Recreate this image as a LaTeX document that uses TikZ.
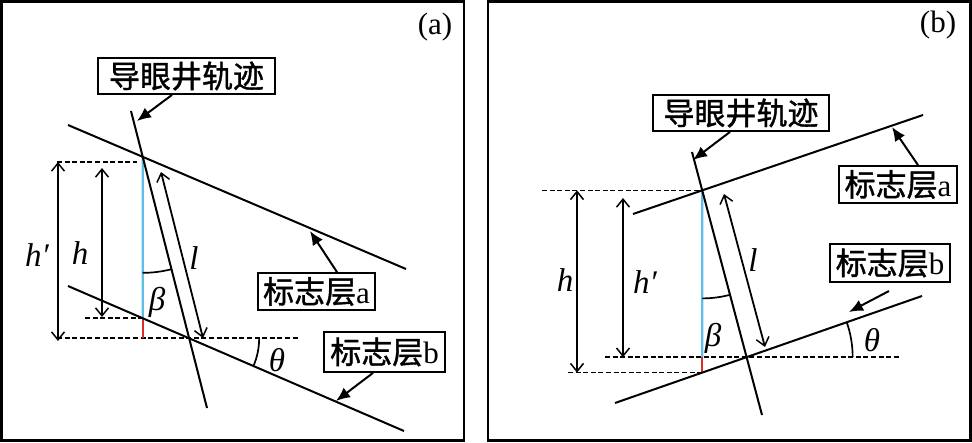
\documentclass[tikz,border=0pt]{standalone}
\usepackage{fontspec}
\setmainfont{Liberation Serif}
\newfontfamily\cjk{Noto Sans CJK SC}[FakeBold=1.2]
\usetikzlibrary{arrows.meta,calc}
\definecolor{vcyan}{RGB}{95,190,232}
\definecolor{vred}{RGB}{220,45,45}
\tikzset{
 ln/.style={line width=2pt},
 dsh/.style={line width=1.6pt, dash pattern=on 5pt off 2.6pt},
 dimarrow/.style={line width=1.8pt, {Straight Barb[length=8pt,width=13pt,line width=1.5pt]}-{Straight Barb[length=8pt,width=13pt,line width=1.5pt]}},
 ptr/.style={line width=2pt, -{Latex[length=14pt,width=12pt]}},
 lbl/.style={draw, line width=1.8pt, inner sep=0pt, font=\cjk\fontsize{31}{36}\selectfont, fill=white},
 sym/.style={font=\fontsize{33}{36}\selectfont\itshape, inner sep=0pt},
 tag/.style={font=\fontsize{31}{36}\selectfont, inner sep=0pt},
 frm/.style={line width=2.8pt},
 anglearc/.style={line width=1.7pt},
 cyanline/.style={line width=2.4pt, vcyan},
 redline/.style={line width=2.4pt, vred}
}
\begin{document}
\begin{tikzpicture}[x=1pt,y=-1pt]
\useasboundingbox (0,0) rectangle (972,442);
% frames
\draw[frm] (1.4,1.4) rectangle (464,440.6);
\draw[frm] (488,1.4) rectangle (970.6,440.6);
\node[tag] (taga) at (435,27) {(a)};
\node[tag] (tagb) at (938,25) {(b)};

% ---------------- panel (a)
\coordinate (wa1) at (131,111);
\coordinate (wa2) at (207,408);
\coordinate (la1) at (68,125);
\coordinate (la2) at (406,269);
\coordinate (lb1) at (68,286);
\coordinate (lb2) at (404,431);
\coordinate (A1) at (intersection of wa1--wa2 and la1--la2);
\coordinate (A1d) at (A1 |- lb2);
\coordinate (B1) at (intersection of A1--A1d and lb1--lb2);
\coordinate (T1) at (intersection of wa1--wa2 and lb1--lb2);
\coordinate (xa57) at (57,0);
\coordinate (xa85) at (85,0);
\coordinate (xa300) at (300,0);
\coordinate (dt1) at (57,162);
\coordinate (dt2) at (137,162);
\draw[dsh] (dt1) -- (dt2);
\draw[dsh] (xa85 |- B1) -- (B1);
\draw[dsh] (xa57 |- T1) -- (xa300 |- T1);
\draw[cyanline] (A1) -- (B1);
\draw[redline] (B1) -- (B1 |- T1);
\draw[ln] (wa1) -- (wa2);
\draw[ln] (la1) -- (la2);
\draw[ln] (lb1) -- (lb2);
\coordinate (hpa1) at (58,162);
\coordinate (hpa2) at (58,341);
\draw[dimarrow] (hpa1) -- (hpa2);
\coordinate (ha1) at (102,168);
\coordinate (ha2) at (102,317);
\draw[dimarrow] (ha1) -- (ha2);
\coordinate (la_1) at (161,172);
\coordinate (la_2) at (203,338);
\draw[dimarrow] (la_1) -- (la_2);
\draw[anglearc] ($(A1)+(90:116)$) arc[start angle=90, end angle=75.8, radius=116];
\draw[anglearc] ($(T1)+(0:70)$) arc[start angle=0, end angle=23.3, radius=70];
\node[sym] (hpa) at (37,255) {h′};
\node[sym] (ha) at (80,253) {h};
\node[sym] (lla) at (194,258) {l};
\node[sym] (betaa) at (157,302) {β};
\node[sym] (thetaa) at (277,360) {θ};
\node[lbl, minimum width=177pt, minimum height=36pt] (wella) at (186.5,76) {导眼井轨迹};
\node[lbl, minimum width=117pt, minimum height=37pt] (laya) at (316.5,291.5) {标志层{\rmfamily a}};
\node[lbl, minimum width=121pt, minimum height=40pt] (layb) at (384.5,352) {标志层{\rmfamily b}};
\coordinate (pa1) at (137,121);
\coordinate (pa2) at (310,231);
\coordinate (pa3) at (336,401);
\draw[ptr] ([xshift=-14.5pt]wella.south) -- (pa1);
\draw[ptr] ([xshift=20.5pt]laya.north) -- (pa2);
\draw[ptr] ([xshift=-11.5pt]layb.south) -- (pa3);

% ---------------- panel (b)
\coordinate (wb1) at (692,152);
\coordinate (wb2) at (762,415);
\coordinate (lc1) at (633,214);
\coordinate (lc2) at (923,115);
\coordinate (ld1) at (615,403);
\coordinate (ld2) at (922,296);
\coordinate (A2) at (intersection of wb1--wb2 and lc1--lc2);
\coordinate (A2d) at (A2 |- ld1);
\coordinate (B2) at (intersection of A2--A2d and ld1--ld2);
\coordinate (T2) at (intersection of wb1--wb2 and ld1--ld2);
\coordinate (xb542) at (542,0);
\coordinate (xb605) at (605,0);
\coordinate (xb900) at (900,0);
\coordinate (xb568) at (568,0);
\draw[dsh] (xb542 |- A2) -- (A2);
\draw[dsh] (xb605 |- T2) -- (xb900 |- T2);
\draw[dsh] (xb568 |- B2) -- (B2);
\draw[cyanline] (A2) -- (B2 |- T2);
\draw[redline] (B2 |- T2) -- (B2);
\draw[ln] (wb1) -- (wb2);
\draw[ln] (lc1) -- (lc2);
\draw[ln] (ld1) -- (ld2);
\coordinate (xb577) at (577,0);
\coordinate (xb623) at (623,0);
\coordinate (hpb1) at (623,198);
\draw[dimarrow] (xb577 |- A2) -- (xb577 |- B2);
\draw[dimarrow] (hpb1) -- (xb623 |- T2);
\coordinate (lb_1) at (724,194);
\coordinate (lb_2) at (765,347);
\draw[dimarrow] (lb_1) -- (lb_2);
\draw[anglearc] ($(A2)+(90:108)$) arc[start angle=90, end angle=75.1, radius=108];
\draw[anglearc] ($(T2)+(0:106)$) arc[start angle=0, end angle=-19.2, radius=106];
\node[sym] (hb) at (565,280) {h};
\node[sym] (hpb) at (645,282) {h′};
\node[sym] (llb) at (753,260) {l};
\node[sym] (betab) at (713,338) {β};
\node[sym] (thetab) at (872,340) {θ};
\node[lbl, minimum width=176pt, minimum height=36pt] (wellb) at (741,113) {导眼井轨迹};
\node[lbl, minimum width=118pt, minimum height=37pt] (layab) at (898,184.5) {标志层{\rmfamily a}};
\node[lbl, minimum width=120pt, minimum height=38pt] (laybb) at (890,263) {标志层{\rmfamily b}};
\coordinate (pb1) at (693,160);
\coordinate (pb2) at (892,127);
\coordinate (pb3) at (849,312);
\coordinate (pb3s) at (889,291);
\draw[ptr] ([xshift=-11pt]wellb.south) -- (pb1);
\draw[ptr] ([xshift=20pt]layab.north) -- (pb2);
\draw[ptr] (pb3s) -- (pb3);
\end{tikzpicture}
\end{document}
